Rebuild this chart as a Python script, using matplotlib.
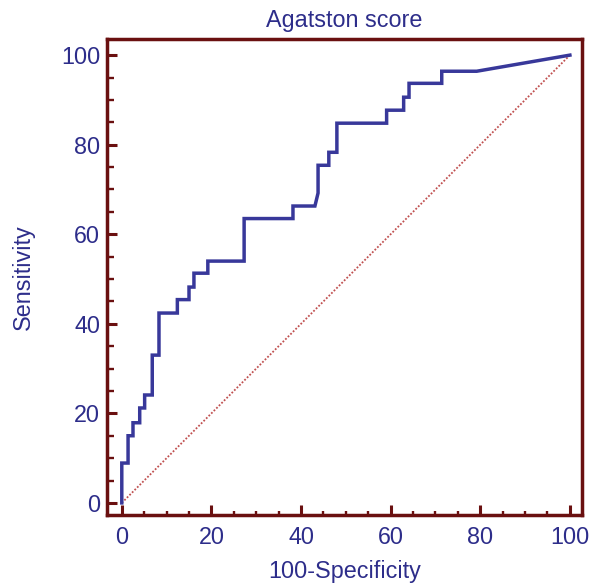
import matplotlib
matplotlib.use("Agg")
import matplotlib.pyplot as plt
from matplotlib.ticker import MultipleLocator

# ROC curve vertices (100-Specificity, Sensitivity)
fpr = [0, 0, 1.4, 1.4, 2.5, 2.5, 4.0, 4.0, 5.1, 5.1, 6.8, 6.8, 8.3, 8.3,
       12.4, 12.4, 15.0, 15.0, 16.1, 16.1, 19.2, 19.2, 27.3, 27.3, 38.2, 38.2,
       43.1, 43.8, 43.8, 46.2, 46.2, 48.0, 48.0, 59.1, 59.1, 62.9, 62.9,
       64.1, 64.1, 71.4, 71.4, 79.2, 100]
tpr = [0, 8.9, 8.9, 15.0, 15.0, 17.9, 17.9, 21.2, 21.2, 24.1, 24.1, 33.0, 33.0, 42.4,
       42.4, 45.4, 45.4, 48.2, 48.2, 51.3, 51.3, 54.0, 54.0, 63.5, 63.5, 66.3,
       66.3, 69.2, 75.4, 75.4, 78.3, 78.3, 84.8, 84.8, 87.7, 87.7, 90.6,
       90.6, 93.7, 93.7, 96.4, 96.4, 100]
diag = [0, 100]
ticks = [0, 20, 40, 60, 80, 100]

title = "Agatston score"
xlabel = "100-Specificity"
ylabel = "Sensitivity"

frame_c = "#6a1010"
text_c = "#2d2d8a"
curve_c = "#38389a"
diag_c = "#c05050"

plt.rcParams['font.family'] = ['Liberation Sans', 'DejaVu Sans']

fig = plt.figure(figsize=(5.92, 5.87), dpi=100)
ax = fig.add_axes([107/592, 1 - 515/587, (582 - 107)/592, (515 - 39)/587])

ax.plot(diag, diag, color=diag_c, lw=1.3, ls=(0, (1.0, 1.0)), zorder=2)
ax.plot(fpr, tpr, color=curve_c, lw=2.5, solid_joinstyle='miter', zorder=3)

ax.set_xlim(-3.3, 102.7)
ax.set_ylim(-2.7, 103.6)
ax.set_xticks(ticks)
ax.set_yticks(ticks)
ax.xaxis.set_minor_locator(MultipleLocator(5))
ax.yaxis.set_minor_locator(MultipleLocator(5))

for s in ax.spines.values():
    s.set_color(frame_c)
    s.set_linewidth(2.5)

fs = 16.8
ax.tick_params(axis='both', which='major', direction='in', length=7, width=2.2,
               color=frame_c, labelcolor=text_c, labelsize=fs)
ax.tick_params(axis='x', which='major', pad=8)
ax.tick_params(axis='y', which='major', pad=5)
ax.tick_params(axis='x', which='minor', direction='in', length=3, width=1.7, color=frame_c)
ax.tick_params(axis='y', which='minor', direction='in', length=5, width=1.7, color=frame_c)

ax.set_title(title, color=text_c, fontsize=fs, pad=9)
ax.set_xlabel(xlabel, color=text_c, fontsize=fs, labelpad=8)
ax.set_ylabel(ylabel, color=text_c, fontsize=fs, labelpad=19)

fig.savefig("out.png", dpi=100)
